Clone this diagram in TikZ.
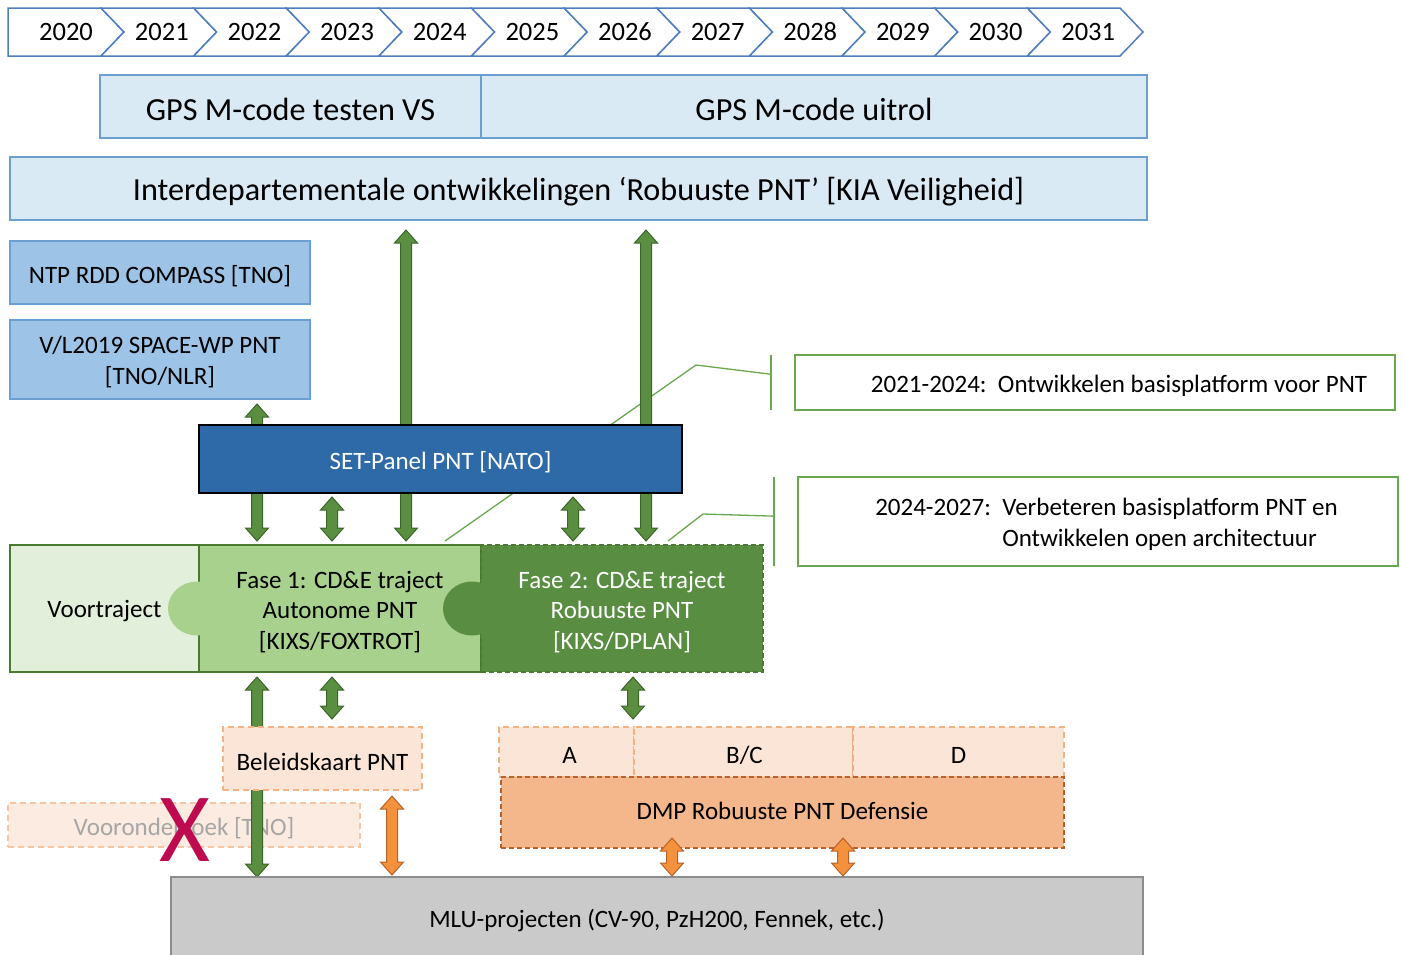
\documentclass[tikz,border=0pt]{standalone}
\usepackage{fontspec}
\setmainfont{Carlito}
\usetikzlibrary{calc}
\definecolor{tlblue}{HTML}{4F7EC0}
\definecolor{gpsfill}{HTML}{DAEAF4}
\definecolor{gpsdraw}{HTML}{6A9FCF}
\definecolor{ntpfill}{HTML}{9DC3E6}
\definecolor{setfill}{HTML}{2E6AA8}
\definecolor{vtfill}{HTML}{E2EFDA}
\definecolor{fonefill}{HTML}{A9D18E}
\definecolor{ftwofill}{HTML}{598E42}
\definecolor{gdraw}{HTML}{4A7A30}
\definecolor{garrfill}{HTML}{5A8E41}
\definecolor{garrdraw}{HTML}{3C6628}
\definecolor{callg}{HTML}{6AA84F}
\definecolor{peach}{HTML}{FBE5D6}
\definecolor{peachdraw}{HTML}{F4B183}
\definecolor{dmpfill}{HTML}{F4B68B}
\definecolor{dmpdraw}{HTML}{B8612A}
\definecolor{oarrfill}{HTML}{F4913C}
\definecolor{oarrdraw}{HTML}{B8612A}
\definecolor{mlufill}{HTML}{C9CAC9}
\definecolor{mludraw}{HTML}{8C8C8C}
\definecolor{xred}{HTML}{BE0A4E}
\definecolor{graytext}{HTML}{A6A6A6}
\newcommand\fsyear{\fontsize{26.5}{30}\selectfont}
\newcommand\fsbig{\fontsize{32.2}{36}\selectfont}
\newcommand\fsmid{\fontsize{25}{30.5}\selectfont}
\pgfdeclarelayer{back}
\pgfsetlayers{back,main}
% vertical double block arrow: style, top point, bottom point
\newcommand\dblarrow[3]{%
  \draw[#1] let \p1=(#2), \p2=(#3) in
    (\x1,\y1) -- (\x1+11.5pt,\y1-13pt) -- (\x1+5.5pt,\y1-13pt) -- (\x1+5.5pt,\y2+13pt)
    -- (\x1+11.5pt,\y2+13pt) -- (\x1,\y2) -- (\x1-11.5pt,\y2+13pt) -- (\x1-5.5pt,\y2+13pt)
    -- (\x1-5.5pt,\y1-13pt) -- (\x1-11.5pt,\y1-13pt) -- cycle;}
\begin{document}
\begin{tikzpicture}[x=1pt,y=-1pt,
  box/.style={draw, inner sep=0pt, outer sep=0pt, anchor=north west, line width=1.5pt},
  tx/.style={font=\fsmid, align=center, inner sep=0pt},
  tl/.style={draw=tlblue, line width=1.5pt, fill=white, line join=miter},
  yrtext/.style={font=\fsyear, inner sep=0pt},
  gps/.style={box, fill=gpsfill, draw=gpsdraw},
  ntp/.style={box, fill=ntpfill, draw=gpsdraw},
  cline/.style={draw=callg, line width=1.3pt},
  cbox/.style={box, fill=white, draw=callg, line width=1.8pt},
  garrow/.style={fill=garrfill, draw=garrdraw, line width=1pt, line join=miter},
  oarrow/.style={fill=oarrfill, draw=oarrdraw, line width=1pt, line join=miter},
  pdash/.style={box, fill=peach, draw=peachdraw, dash pattern=on 6pt off 4pt},
]
\useasboundingbox (0,0) rectangle (1404,954);
\begin{pgfonlayer}{back}
  \fill[white] (0,0) rectangle (1404,954);
\end{pgfonlayer}

% timeline
\foreach \yr [count=\k from 0] in {2020,2021,...,2031}{
  \pgfmathsetmacro\xa{\k==0 ? 8 : 101+(\k-1)*92.636}
  \pgfmathsetmacro\xb{101+\k*92.636}
  \pgfmathsetmacro\xt{\xb+23}
  \pgfmathsetmacro\xn{\xa+23}
  \ifnum\k=0
    \draw[tl] (\xa,8) -- (\xb,8) -- (\xt,32) -- (\xb,56) -- (\xa,56) -- cycle;
    \node[yrtext] (yr\yr) at (66,32) {\yr};
  \else
    \draw[tl] (\xa,8) -- (\xb,8) -- (\xt,32) -- (\xb,56) -- (\xa,56) -- (\xn,32) -- cycle;
    \pgfmathsetmacro\xc{(\xa+\xt)/2+3}
    \node[yrtext] (yr\yr) at (\xc,32) {\yr};
  \fi
}

% top boxes
\node[gps, minimum width=381, minimum height=63] (gps1) at (100,75) {};
\node[tx, font=\fsbig] (gps1t) at ($(gps1.center)+(0,3)$) {GPS M-code testen VS};
\node[gps, minimum width=666, minimum height=63] (gps2) at (481,75) {};
\node[tx, font=\fsbig] (gps2t) at ($(gps2.center)+(0,3)$) {GPS M-code uitrol};
\node[gps, minimum width=1137, minimum height=63] (interd) at (10,157) {};
\node[tx, font=\fsbig] (interdt) at ($(interd.center)+(0,3.5)$) {Interdepartementale ontwikkelingen ‘Robuuste PNT’ [KIA Veiligheid]};
\node[ntp, minimum width=300, minimum height=63] (ntp) at (10,241) {};
\node[tx] (ntpt) at ($(ntp.center)+(0,3.5)$) {NTP RDD COMPASS [TNO]};
\node[ntp, minimum width=300, minimum height=79] (vl) at (10,320) {};
\node[tx] (vlt) at ($(vl.center)+(0,2.5)$) {V/L2019 SPACE-WP PNT\\{}[TNO/NLR]};

% callout boxes
\node[cbox, minimum width=600, minimum height=55] (cb1) at (795,355) {};
\node[tx] (cb1t) at ($(cb1.center)+(24,3.5)$) {2021-2024:\ \ Ontwikkelen basisplatform voor PNT};
\node[cbox, minimum width=600, minimum height=89] (cb2) at (798,477) {};
\node[tx, align=left] (cb2t) at ($(cb2.center)+(8.5,3)$) {2024-2027:\ \ Verbeteren basisplatform PNT en\\\hspace*{127pt}Ontwikkelen open architectuur};

% SET panel
\node[box, fill=setfill, draw=black, line width=2pt, minimum width=483, minimum height=68] (set) at (199,425) {};
\node[tx, text=white] (sett) at ($(set.center)+(0,3.5)$) {SET-Panel PNT [NATO]};

% Fase row
\node[box, fill=vtfill, draw=gdraw, minimum width=189, minimum height=127] (voor) at (10,545) {};
\node[box, fill=fonefill, draw=gdraw, minimum width=282, minimum height=127] (fase1) at (199,545) {};
\node[box, fill=ftwofill, draw=gdraw, dash pattern=on 5pt off 3pt, minimum width=282, minimum height=127] (fase2) at (481,545) {};
\fill[fonefill] ($(voor.east)+(-2,0)$) ellipse [x radius=29, y radius=27];
\fill[ftwofill] ($(fase1.east)+(-9,0)$) ellipse [x radius=29, y radius=27];
\node[tx] (voort) at ($(voor.center)+(0,3)$) {Voortraject};
\node[tx] (fase1t) at ($(fase1.center)+(0,3.5)$) {Fase 1: CD\&E traject\\Autonome PNT\\{}[KIXS/FOXTROT]};
\node[tx, text=white] (fase2t) at ($(fase2.center)+(0,3.5)$) {Fase 2: CD\&E traject\\Robuuste PNT\\{}[KIXS/DPLAN]};

% lower boxes
\node[box, fill=mlufill, draw=mludraw, minimum width=972, minimum height=83] (mlu) at (171,877) {};
\node[tx] (mlut) at ($(mlu.center)+(0,1.5)$) {MLU-projecten (CV-90, PzH200, Fennek, etc.)};
\node[pdash, minimum width=199, minimum height=63] (bel) at (223,727) {};
\node[tx] (belt) at ($(bel.center)+(0,3)$) {Beleidskaart PNT};
\node[pdash, minimum width=135, minimum height=50] (ba) at (499,727) {};
\node[tx] (bat) at ($(ba.center)+(3,3.5)$) {A};
\node[pdash, minimum width=219, minimum height=50] (bbc) at (634,727) {};
\node[tx] (bbct) at ($(bbc.center)+(1,3.5)$) {B/C};
\node[pdash, minimum width=211, minimum height=50] (bd) at (853,727) {};
\node[tx] (bdt) at ($(bd.center)+(0,3.5)$) {D};
\node[box, fill=dmpfill, draw=dmpdraw, dash pattern=on 5pt off 3pt, minimum width=563, minimum height=71] (dmp) at (501,777) {};
\node[tx] (dmpt) at ($(dmp.center)+(0,-2)$) {DMP Robuuste PNT Defensie};

% x positions of arrows
\coordinate (xa) at (406,0);
\coordinate (xb) at (646,0);
\coordinate (xc) at (257,0);
\coordinate (xd) at (332,0);
\coordinate (xe) at (573,0);
\coordinate (xf) at (633,0);
\coordinate (xg) at (392,0);
\coordinate (xh) at (672,0);
\coordinate (xi) at (843,0);

% arrows on main layer
\dblarrow{garrow}{$(fase1.south -| xd)+(0,5)$}{$(bel.north -| xd)+(0,-8)$}
\dblarrow{garrow}{$(fase2.south -| xf)+(0,5)$}{$(ba.north -| xf)+(0,-8)$}
\dblarrow{oarrow}{$(bel.south -| xg)+(0,6)$}{$(mlu.north -| xg)+(0,-2)$}
\dblarrow{oarrow}{$(dmp.south -| xh)+(0,-10)$}{$(mlu.north -| xh)+(0,-1)$}
\dblarrow{oarrow}{$(dmp.south -| xi)+(0,-10)$}{$(mlu.north -| xi)+(0,-1)$}

% back layer: callout lines, long arrows, Vooronderzoek
\begin{pgfonlayer}{back}
  \coordinate (br1t) at ($(cb1.north west)+(-24,0)$);
  \coordinate (br1b) at ($(cb1.south west)+(-24,0)$);
  \coordinate (br2t) at ($(cb2.north west)+(-24,0)$);
  \coordinate (br2b) at ($(cb2.south west)+(-24,0)$);
  \coordinate (c1a) at (445,541);
  \coordinate (c1k) at (696,365);
  \coordinate (c2a) at (668,541);
  \coordinate (c2k) at (703,514);
  \draw[cline] (br1t) -- (br1b);
  \draw[cline] (br2t) -- (br2b);
  \draw[cline] (c1a) -- (c1k) -- ($(br1t)!0.35!(br1b)$);
  \draw[cline] (c2a) -- (c2k) -- ($(br2t)!0.44!(br2b)$);
  \dblarrow{garrow}{$(interd.south -| xa)+(0,10)$}{$(fase1.north -| xa)+(0,-4)$}
  \dblarrow{garrow}{$(interd.south -| xb)+(0,10)$}{$(fase2.north -| xb)+(0,-4)$}
  \dblarrow{garrow}{$(vl.south -| xc)+(0,5)$}{$(fase1.north -| xc)+(0,-4)$}
  \dblarrow{garrow}{$(set.south -| xd)+(0,4)$}{$(fase1.north -| xd)+(0,-4)$}
  \dblarrow{garrow}{$(set.south -| xe)+(0,4)$}{$(fase2.north -| xe)+(0,-4)$}
  \node[box, fill=peach!75!white, draw=peachdraw!75!white, dash pattern=on 6pt off 4pt, minimum width=352, minimum height=44] (voz) at (8,803) {};
  \node[tx, text=graytext] (vozt) at ($(voz.center)+(0,3)$) {Vooronderzoek [TNO]};
  \dblarrow{garrow}{$(fase1.south -| xc)+(0,5)$}{$(mlu.north -| xc)$}
\end{pgfonlayer}

% cross mark
\node[font=\fontsize{98}{98}\selectfont, text=xred, inner sep=0pt] (xmark) at (185,830) {X};
\end{tikzpicture}
\end{document}
